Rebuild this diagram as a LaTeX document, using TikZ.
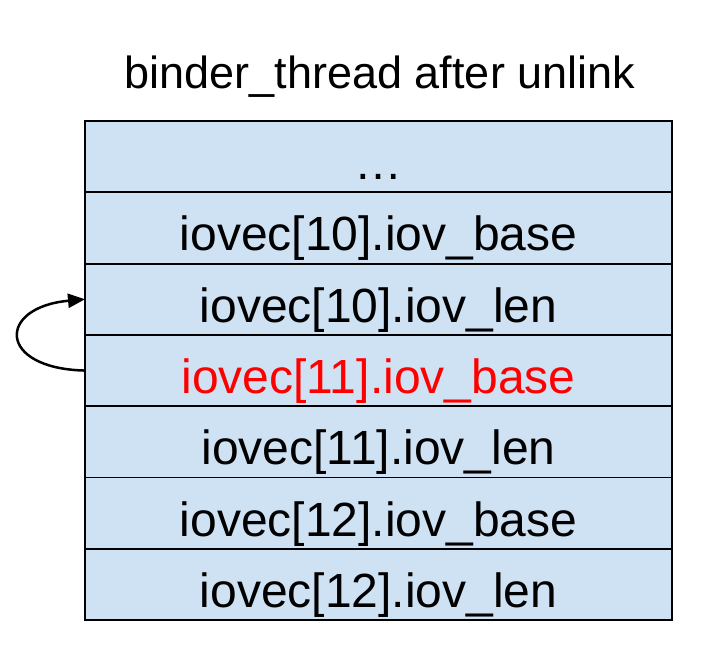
\documentclass[tikz,border=0pt]{standalone}
\usepackage{fontspec}
\setmainfont{Liberation Sans}
\usetikzlibrary{positioning, arrows.meta}
\definecolor{cellblue}{HTML}{CFE2F3}

\begin{document}
\begin{tikzpicture}[x=1pt, y=-1pt, font=\fontsize{48}{56}\selectfont,
  cell/.style={draw, fill=cellblue, line width=1.8pt, minimum width=587pt,
               minimum height=71.3pt, text height=46pt, text depth=0pt,
               inner sep=0pt, outer sep=0pt, anchor=north},
  hot/.style={cell, text=red},
  loopback/.style={line width=2.5pt, -{Triangle[length=17pt, width=14pt]}}]
  \useasboundingbox (0,0) rectangle (726,672);
  \node[font=\fontsize{45}{54}\selectfont, anchor=base] (title) at (380,88){binder\_thread after unlink};
  \node[cell] (c1) at (378.5,121){\ldots};
  \node[cell, below=0pt of c1] (c2){iovec[10].iov\_base};
  \node[cell, below=0pt of c2] (c3){iovec[10].iov\_len};
  \node[hot, below=0pt of c3] (c4){iovec[11].iov\_base};
  \node[cell, below=0pt of c4] (c5){iovec[11].iov\_len};
  \node[cell, below=0pt of c5] (c6){iovec[12].iov\_base};
  \node[cell, below=0pt of c6] (c7){iovec[12].iov\_len};
  \draw[loopback] (c4.west) .. controls +(-88,-2) and +(-88,8) .. (c3.west);
\end{tikzpicture}
\end{document}
